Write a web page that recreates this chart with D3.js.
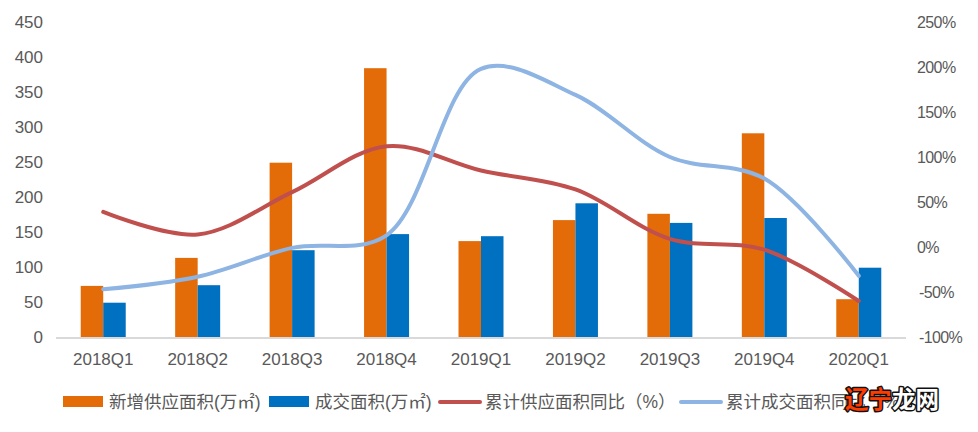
<!DOCTYPE html>
<html>
<head>
<meta charset="utf-8">
<script src="https://cdn.jsdelivr.net/npm/d3@7"></script>
<style>
  html, body { margin: 0; padding: 0; background: #fff; }
  svg { display: block; font-family: "Liberation Sans", "Noto Sans CJK SC", sans-serif; }
</style>
</head>
<body>
<svg id="chart" width="978" height="432"></svg>
<script>
(function() {
    'use strict';

    const quarters = ['2018Q1', '2018Q2', '2018Q3', '2018Q4', '2019Q1', '2019Q2', '2019Q3', '2019Q4', '2020Q1'];
    const newSupply = [73, 113, 249, 384, 137, 167, 176, 291, 54];      // 新增供应面积(万㎡)
    const dealArea = [49, 74, 124, 147, 144, 191, 163, 170, 99];        // 成交面积(万㎡)
    const supplyYoY = [39, 14, 61, 112, 85, 64, 9, -3, -60];            // 累计供应面积同比（%）
    const dealYoY = [-47, -33, -1, 13, 198, 169, 100, 76, -32];          // 累计成交面积同比（%）
    const leftTicks = [0, 50, 100, 150, 200, 250, 300, 350, 400, 450];
    const rightTicks = [-100, -50, 0, 50, 100, 150, 200, 250];

    const svg = d3.select('#chart');
    const plot = { left: 56, right: 906, top: 22, bottom: 337 };
    const labelColor = '#595959';

    const x = d3.scaleBand()
        .domain(quarters)
        .range([plot.left, plot.right])
        .paddingInner(0.5235)
        .paddingOuter(0.26175);

    const xSub = d3.scaleBand()
        .domain(['supply', 'deal'])
        .range([0, x.bandwidth()]);

    const yLeft = d3.scaleLinear().domain([0, 450]).range([plot.bottom, plot.top]);
    const yRight = d3.scaleLinear().domain([-100, 250]).range([plot.bottom, plot.top]);

    // left axis labels
    svg.append('g')
        .selectAll('text')
        .data(leftTicks)
        .enter()
        .append('text')
        .attr('x', 43)
        .attr('y', d => yLeft(d))
        .attr('dy', '0.35em')
        .attr('text-anchor', 'end')
        .style('font-size', '17px')
        .style('fill', labelColor)
        .text(d => d);

    // right axis labels (narrow percent sign in the original)
    svg.append('g')
        .selectAll('text')
        .data(rightTicks)
        .enter()
        .append('text')
        .attr('x', d => d < 0 ? 919 : 917)
        .attr('y', d => yRight(d))
        .attr('dy', '0.35em')
        .attr('text-anchor', 'start')
        .style('font-size', '16px')
        .style('letter-spacing', '-0.6px')
        .style('fill', labelColor)
        .text(d => d < 0 ? '-' + Math.abs(d) + '%' : d + '%');

    // bars
    const series = [
        { key: 'supply', values: newSupply, color: '#E36C09' },
        { key: 'deal', values: dealArea, color: '#0070C0' }
    ];

    series.forEach(s => {
        svg.append('g')
            .selectAll('rect')
            .data(quarters)
            .enter()
            .append('rect')
            .attr('x', (d, i) => x(d) + xSub(s.key))
            .attr('y', (d, i) => yLeft(s.values[i]))
            .attr('width', xSub.bandwidth())
            .attr('height', (d, i) => yLeft(0) - yLeft(s.values[i]))
            .attr('fill', s.color);
    });

    // x axis line
    svg.append('line')
        .attr('x1', plot.left)
        .attr('x2', plot.right)
        .attr('y1', plot.bottom + 1)
        .attr('y2', plot.bottom + 1)
        .attr('stroke', '#D9D9D9')
        .attr('stroke-width', 2);

    // x labels
    svg.append('g')
        .selectAll('text')
        .data(quarters)
        .enter()
        .append('text')
        .attr('x', d => x(d) + x.bandwidth() / 2)
        .attr('y', 365)
        .attr('text-anchor', 'middle')
        .style('font-size', '17px')
        .style('fill', labelColor)
        .text(d => d);

    // smoothed lines
    const line = d3.line()
        .x((d, i) => x(quarters[i]) + x.bandwidth() / 2)
        .y(d => yRight(d))
        .curve(d3.curveCatmullRom.alpha(0.5));

    const lines = [
        { values: supplyYoY, color: '#C0504D' },
        { values: dealYoY, color: '#8DB4E2' }
    ];

    lines.forEach(l => {
        svg.append('path')
            .attr('d', line(l.values))
            .attr('fill', 'none')
            .attr('stroke', l.color)
            .attr('stroke-width', 4)
            .attr('stroke-linecap', 'round')
            .attr('stroke-linejoin', 'round');
    });

    // legend
    const legendItems = [
        { label: '新增供应面积(万㎡)', color: '#E36C09', type: 'rect', x: 63 },
        { label: '成交面积(万㎡)', color: '#0070C0', type: 'rect', x: 269 },
        { label: '累计供应面积同比（%）', color: '#C0504D', type: 'line', x: 438 },
        { label: '累计成交面积同比（%）', color: '#8DB4E2', type: 'line', x: 679 }
    ];

    const legend = svg.append('g');
    legendItems.forEach(item => {
        if (item.type === 'rect') {
            legend.append('rect')
                .attr('x', item.x)
                .attr('y', 396)
                .attr('width', 40)
                .attr('height', 11)
                .attr('fill', item.color);
        } else {
            legend.append('line')
                .attr('x1', item.x + 2)
                .attr('x2', item.x + 42)
                .attr('y1', 402)
                .attr('y2', 402)
                .attr('stroke', item.color)
                .attr('stroke-width', 4)
                .attr('stroke-linecap', 'round');
        }
        legend.append('text')
            .attr('x', item.x + (item.type === 'rect' ? 46 : 47))
            .attr('y', 402)
            .attr('dy', '0.35em')
            .style('font-size', '17.5px')
            .style('fill', labelColor)
            .text(item.label);
    });

    // site watermark
    const mark = svg.append('text')
        .attr('x', 845)
        .attr('y', 408)
        .style('font-size', '23.5px')
        .style('font-weight', 'bold')
        .style('font-family', '"Noto Sans CJK SC", sans-serif')
        .attr('stroke', '#111')
        .attr('stroke-width', 3)
        .attr('paint-order', 'stroke')
        .attr('stroke-linejoin', 'round');
    mark.append('tspan').attr('fill', '#FF3C00').text('辽宁');
    mark.append('tspan').attr('fill', '#fff').text('龙网');
})();
</script>
</body>
</html>
